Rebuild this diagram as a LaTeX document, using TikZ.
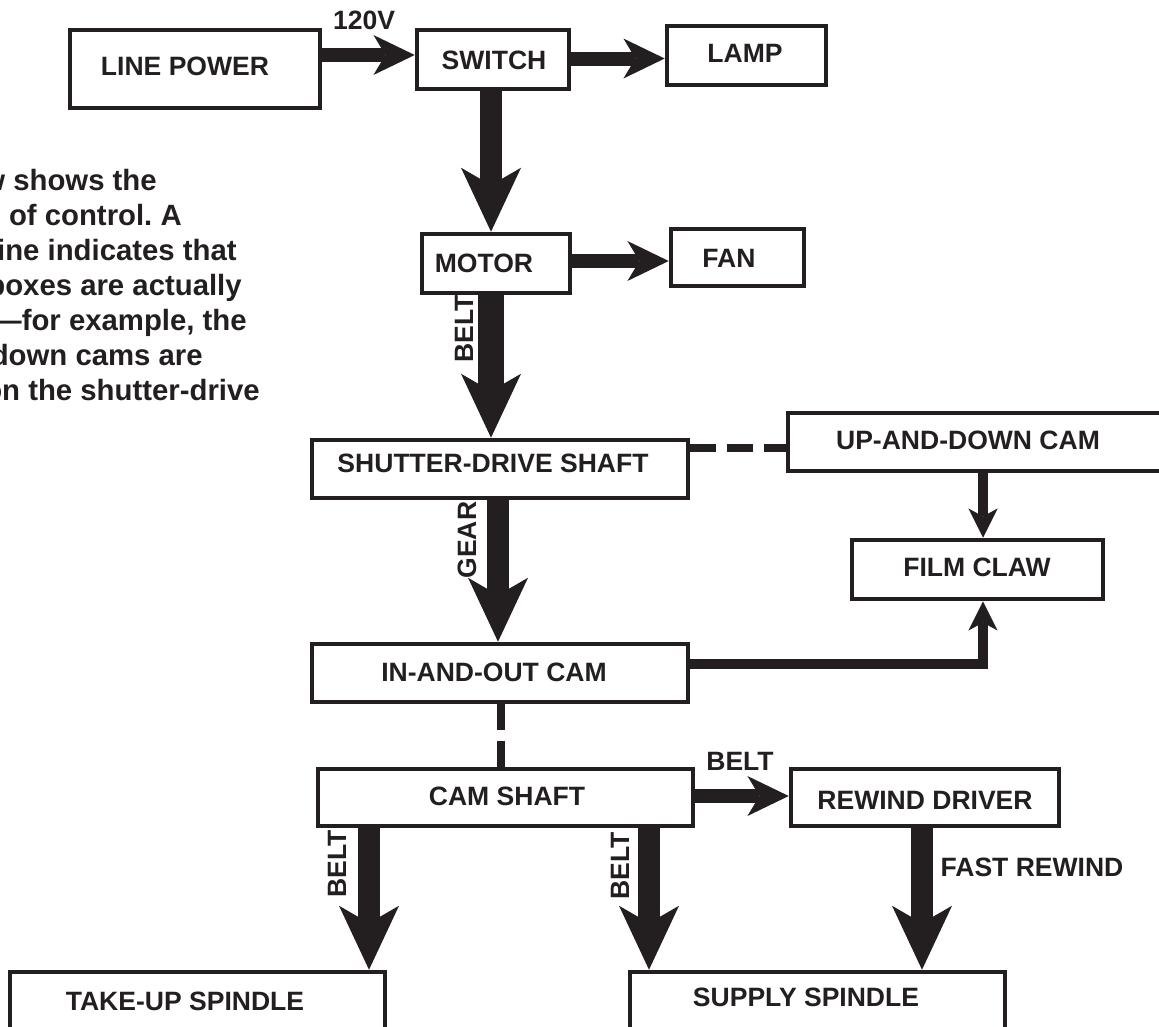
\documentclass[tikz,border=0pt]{standalone}
\usepackage{fontspec}
\setmainfont{Liberation Sans}
\usetikzlibrary{arrows.meta,fit}
\definecolor{ink}{RGB}{35,31,32}
\newcommand\lblfont{\fontsize{19.9}{24}\selectfont\bfseries}
\newcommand\parfont{\fontsize{22}{26}\selectfont\bfseries\frenchspacing}
\begin{document}
\begin{tikzpicture}[x=0.75pt,y=-0.75pt,
  box/.style={draw=ink, line width=3.4pt, fill=white, inner sep=0pt},
  lbl/.style={font=\lblfont, text=ink, inner sep=0pt},
  ptxt/.style={font=\parfont, text=ink, inner sep=0pt, anchor=base east},
  bigarrow/.style={draw=ink, line width=17pt, -{Stealth[length=48pt, width=45pt, inset=13pt, line width=0pt]}},
  medarrow/.style={draw=ink, line width=10.5pt, -{Stealth[length=31pt, width=30pt, inset=9pt, line width=0pt]}},
  thinarrow/.style={draw=ink, line width=7pt, line join=miter, -{Stealth[length=22pt, width=22pt, inset=6pt, line width=0pt]}},
  dashline/.style={draw=ink, line width=6pt, dash pattern=on 19.5pt off 8pt}
]
\useasboundingbox (0,0) rectangle (1159,1026);
\clip (0,0) rectangle (1159,1026);

% boxes
\node[box, fit={(70,30) (320,108)}] (lp) {};
\node[box, fit={(417,30) (569,89)}] (sw) {};
\node[box, fit={(667,26) (826,85)}] (lamp) {};
\node[box, fit={(422,234) (570,293)}] (mot) {};
\node[box, fit={(671,229) (804,286)}] (fan) {};
\node[box, fit={(312,440) (688,498)}] (sds) {};
\node[box, fit={(788,413) (1180,471)}] (udc) {};
\node[box, fit={(852,540) (1103,599)}] (fc) {};
\node[box, fit={(312,644) (688,702)}] (iao) {};
\node[box, fit={(318,769) (693,826)}] (cs) {};
\node[box, fit={(791,769) (1059,826)}] (rd) {};
\node[box, fit={(10,972) (385,1040)}] (tu) {};
\node[box, fit={(630,972) (1005,1040)}] (ss) {};

% helper coordinates
\coordinate (yA) at (0,55);
\coordinate (yB) at (0,58.5);
\coordinate (yC) at (0,261);
\coordinate (yD) at (0,448);
\coordinate (yE) at (0,664);
\coordinate (yF) at (0,796);
\coordinate (xA) at (491,0);
\coordinate (xB) at (498,0);
\coordinate (xC) at (983,0);
\coordinate (xD) at (501,0);
\coordinate (xE) at (369,0);
\coordinate (xF) at (649,0);
\coordinate (xG) at (922,0);

% connectors
\draw[medarrow] (lp.east |- yA) -- (sw.west |- yA);
\draw[medarrow] (sw.east |- yB) -- (lamp.west |- yB);
\draw[bigarrow] (sw.south -| xA) -- (mot.north -| xA);
\draw[medarrow] (mot.east |- yC) -- (fan.west |- yC);
\draw[bigarrow, line width=19pt] (mot.south -| xA) -- (sds.north -| xA);
\draw[bigarrow] (sds.south -| xB) -- (iao.north -| xB);
\draw[dashline] (sds.east |- yD) -- (udc.west |- yD);
\draw[thinarrow] (udc.south -| xC) -- (fc.north -| xC);
\draw[thinarrow] (iao.east |- yE) -| (fc.south -| xC);
\draw[dashline] (iao.south -| xD) -- (cs.north -| xD);
\draw[medarrow] (cs.east |- yF) -- (rd.west |- yF);
\draw[bigarrow] (cs.south -| xE) -- (tu.north -| xE);
\draw[bigarrow] (cs.south -| xF) -- (ss.north -| xF);
\draw[bigarrow] (rd.south -| xG) -- (ss.north -| xG);

% box texts
\node[lbl] (lpT) at (185,66) {LINE POWER};
\node[lbl] (swT) at (494,60) {SWITCH};
\node[lbl] (lampT) at (745,53) {LAMP};
\node[lbl] (motT) at (484,263) {MOTOR};
\node[lbl] (fanT) at (729,258) {FAN};
\node[lbl] (sdsT) at (493,463) {SHUTTER-DRIVE SHAFT};
\node[lbl] (udcT) at (968,440) {UP-AND-DOWN CAM};
\node[lbl] (fcT) at (977,567) {FILM CLAW};
\node[lbl] (iaoT) at (494,672) {IN-AND-OUT CAM};
\node[lbl] (csT) at (507,796) {CAM SHAFT};
\node[lbl] (rdT) at (925,800) {REWIND DRIVER};
\node[lbl] (tuT) at (185,1001) {TAKE-UP SPINDLE};
\node[lbl] (ssT) at (806,997) {SUPPLY SPINDLE};

% connector labels
\node[lbl] (v120) at (364,20) {120V};
\node[lbl, rotate=90] (belt1) at (464,329) {BELT};
\node[lbl, rotate=90] (gear) at (467,540) {GEAR};
\node[lbl, rotate=90] (belt2) at (337,864) {BELT};
\node[lbl, rotate=90] (belt3) at (620,866) {BELT};
\node[lbl] (belt4) at (740,761) {BELT};
\node[lbl] (fast) at (1032,867) {FAST REWIND};

% clipped caption
\node[ptxt] (p1) at (157,190) {w shows the};
\node[ptxt] (p2) at (182,225) {of control. A};
\node[ptxt] (p3) at (237,260) {ine indicates that};
\node[ptxt] (p4) at (242,295) {boxes are actually};
\node[ptxt] (p5) at (247,330) {---for example, the};
\node[ptxt] (p6) at (203,365) {down cams are};
\node[ptxt] (p7) at (260,400) {on the shutter-drive};
\end{tikzpicture}
\end{document}
